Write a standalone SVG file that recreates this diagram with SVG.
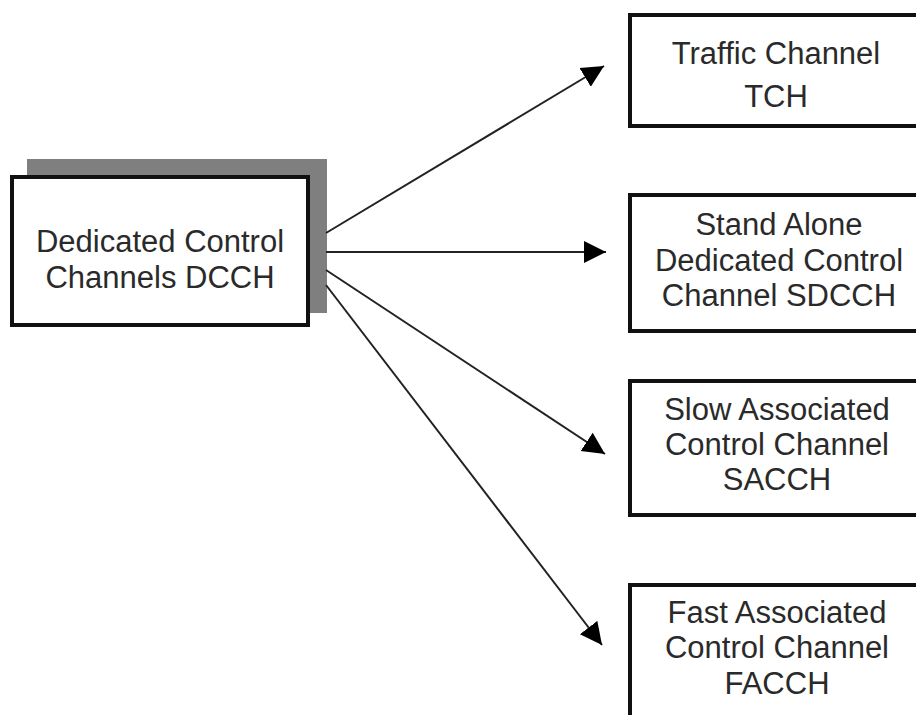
<svg xmlns="http://www.w3.org/2000/svg" width="916" height="715" viewBox="0 0 916 715">
  <style>
    .box { fill: #ffffff; stroke: #111111; stroke-width: 4; }
    .shadow { fill: #7f7f7f; }
    .label { font-family: "Liberation Sans", Arial, sans-serif; font-size: 31px; fill: #2a2a2a; text-anchor: middle; }
    .link { stroke: #222222; stroke-width: 2; fill: none; marker-end: url(#arrow); }
  </style>
  <defs>
    <marker id="arrow" markerUnits="userSpaceOnUse" markerWidth="24" markerHeight="24" viewBox="0 0 24 24" refX="22" refY="12" orient="auto">
      <path d="M0,1 L22,12 L0,23 Z" fill="#000000"/>
    </marker>
  </defs>

  <rect width="916" height="715" fill="#ffffff"/>

  <!-- source node with drop shadow -->
  <g id="dcch">
    <rect class="shadow" x="27" y="159" width="300" height="154"/>
    <rect class="box" x="12" y="177" width="296" height="148"/>
    <text class="label" x="160" y="252">Dedicated Control</text>
    <text class="label" x="160" y="288">Channels DCCH</text>
  </g>

  <!-- channel nodes, right edges run past the frame -->
  <g id="tch">
    <rect class="box" x="630" y="15" width="320" height="111"/>
    <text class="label" x="776" y="64">Traffic Channel</text>
    <text class="label" x="776" y="107">TCH</text>
  </g>

  <g id="sdcch">
    <rect class="box" x="630" y="195" width="320" height="136"/>
    <text class="label" x="779" y="235">Stand Alone</text>
    <text class="label" x="779" y="271">Dedicated Control</text>
    <text class="label" x="779" y="306">Channel SDCCH</text>
  </g>

  <g id="sacch">
    <rect class="box" x="630" y="381" width="320" height="134"/>
    <text class="label" x="777" y="420">Slow Associated</text>
    <text class="label" x="777" y="455">Control Channel</text>
    <text class="label" x="777" y="490">SACCH</text>
  </g>

  <g id="facch">
    <rect class="box" x="630" y="585" width="320" height="160"/>
    <text class="label" x="777" y="623">Fast Associated</text>
    <text class="label" x="777" y="658">Control Channel</text>
    <text class="label" x="777" y="694">FACCH</text>
  </g>

  <!-- connectors -->
  <g id="connectors">
    <line class="link" x1="326" y1="233" x2="604" y2="66"/>
    <line class="link" x1="326" y1="252" x2="606" y2="252"/>
    <line class="link" x1="326" y1="270" x2="605" y2="454"/>
    <line class="link" x1="326" y1="285" x2="602" y2="645"/>
  </g>
</svg>
